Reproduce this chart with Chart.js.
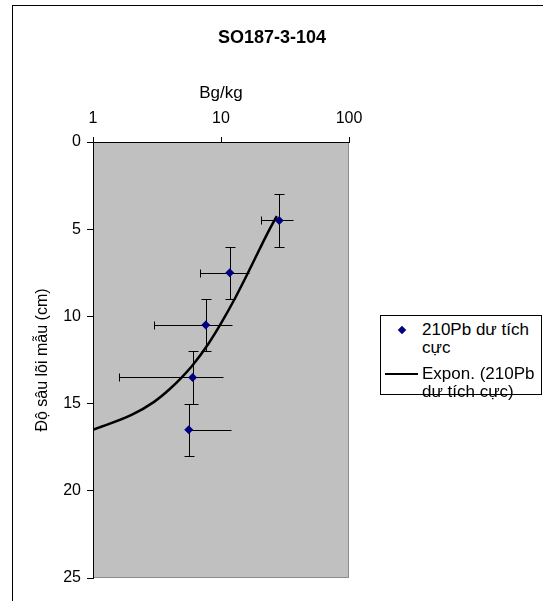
<!DOCTYPE html>
<html>
<head>
<meta charset="utf-8">
<script src="https://cdn.jsdelivr.net/npm/chart.js@4.4.1/dist/chart.umd.min.js"></script>
<style>
html, body { margin: 0; padding: 0; background: #fff; overflow: hidden; }
body { width: 543px; height: 601px; position: relative; font-family: "Liberation Sans", Arial, sans-serif; color: #000; }
#frame { position: absolute; left: 12px; top: 5px; width: 560px; height: 620px; border-left: 1px solid #000; border-top: 1px solid #000; }
#myChart { position: absolute; left: 0; top: 0; }
#title { position: absolute; left: 12px; width: 520px; top: 26px; text-align: center; font-weight: bold; font-size: 18px; line-height: 22px; }
#legend { position: absolute; left: 380px; top: 315px; width: 162px; height: 80px; box-sizing: border-box; border: 1px solid #000; background: #fff; font-size: 17px; line-height: 18px; }
#legend .txt { position: absolute; left: 41px; white-space: nowrap; }
#legend .dot { position: absolute; left: 18px; top: 11px; width: 6px; height: 6px; background: #000080; transform: rotate(45deg); }
#legend .ln { position: absolute; left: 4px; top: 57px; width: 33px; height: 2px; background: #000; }
</style>
</head>
<body>
<div id="frame"></div>
<canvas id="myChart" width="543" height="601"></canvas>
<div id="title">SO187-3-104</div>
<div id="legend">
  <div class="dot"></div>
  <div class="txt" style="top:5px">210Pb dư tích<br>cực</div>
  <div class="ln"></div>
  <div class="txt" style="top:49px">Expon. (210Pb<br>dư tích cực)</div>
</div>
<script>
// 210Pb activity (Bg/kg) against core depth (cm)
const activity = [28.5, 11.7, 7.6, 6.0, 5.6];
const depth = [4.5, 7.5, 10.5, 13.5, 16.5];
const activityErr = [7.8, 4.8, 4.6, 4.4, 6.3];
const depthErr = [1.5, 1.5, 1.5, 1.5, 1.5];

// exponential trend line
const trendActivity = [1, 2, 3, 4, 5, 6, 8, 10, 13, 16, 20, 24, 27.3];
const trendDepth = [16.5, 15.65, 14.9, 14.15, 13.45, 12.8, 11.55, 10.4, 8.9, 7.6, 6.15, 5.0, 4.25];

const xTicks = [1, 10, 100];
const depthTicks = [0, 5, 10, 15, 20, 25];

const plotBg = {
    id: 'plotBg',
    beforeDraw(chart) {
        const {ctx, chartArea: a} = chart;
        ctx.save();
        ctx.fillStyle = '#c0c0c0';
        ctx.fillRect(a.left, a.top, a.right - a.left, a.bottom - a.top);
        ctx.strokeStyle = '#8c8c8c';
        ctx.lineWidth = 1;
        ctx.strokeRect(a.left + 0.5, a.top + 0.5, a.right - a.left - 1, a.bottom - a.top - 1);
        ctx.restore();
    }
};

const errorBars = {
    id: 'errorBars',
    beforeDatasetsDraw(chart) {
        const {ctx, scales: {x, y}} = chart;
        ctx.save();
        ctx.lineWidth = 1;
        ctx.strokeStyle = '#000';
        ctx.beginPath();
        activity.forEach((a, i) => {
            const px = Math.round(x.getPixelForValue(a)) + 0.5;
            const py = Math.round(y.getPixelForValue(depth[i])) + 0.5;
            const y1 = Math.round(y.getPixelForValue(depth[i] - depthErr[i])) + 0.5;
            const y2 = Math.round(y.getPixelForValue(depth[i] + depthErr[i])) + 0.5;
            ctx.moveTo(px, y1); ctx.lineTo(px, y2);
            ctx.moveTo(px - 5, y1); ctx.lineTo(px + 5, y1);
            ctx.moveTo(px - 5, y2); ctx.lineTo(px + 5, y2);
            // horizontal: the right end has no cap, the left one does
            const hi = Math.round(x.getPixelForValue(a + activityErr[i])) + 0.5;
            ctx.moveTo(px, py); ctx.lineTo(hi, py);
            const lo = a - activityErr[i];
            if (lo > 0) {
                const xl = Math.round(x.getPixelForValue(lo)) + 0.5;
                ctx.moveTo(px, py); ctx.lineTo(xl, py);
                ctx.moveTo(xl, py - 4); ctx.lineTo(xl, py + 4);
            }
        });
        ctx.stroke();
        ctx.restore();
    }
};

let ctx = document.getElementById('myChart').getContext('2d');

let myChart = new Chart(ctx, {
    type: 'scatter',
    data: {
        datasets: [{
            label: '210Pb dư tích cực',
            data: activity.map((a, i) => ({x: a, y: depth[i]})),
            pointStyle: 'rectRot',
            pointRadius: 4.5,
            backgroundColor: '#000080',
            borderColor: '#000080',
            borderWidth: 0
        }, {
            label: 'Expon. (210Pb dư tích cực)',
            data: trendActivity.map((a, i) => ({x: a, y: trendDepth[i]})),
            showLine: true,
            pointRadius: 0,
            borderColor: '#000',
            borderWidth: 2.5,
            cubicInterpolationMode: 'monotone'
        }]
    },
    options: {
        responsive: false,
        animation: false,
        layout: {padding: {left: 0, top: 0, right: 194, bottom: 23}},
        plugins: {
            legend: {display: false},
            title: {display: false},
            tooltip: {enabled: false}
        },
        scales: {
            x: {
                type: 'logarithmic',
                position: 'top',
                min: xTicks[0],
                max: xTicks[xTicks.length - 1],
                afterBuildTicks: s => { s.ticks = xTicks.map(v => ({value: v})); },
                afterFit: s => { s.height = 142; },
                ticks: {
                    callback: v => String(v),
                    color: '#000',
                    padding: 9,
                    maxRotation: 0,
                    font: {family: 'Liberation Sans', size: 16}
                },
                grid: {drawOnChartArea: false, drawTicks: true, tickLength: 5, color: '#000'},
                border: {color: '#000', width: 1},
                title: {
                    display: true,
                    text: 'Bg/kg',
                    color: '#000',
                    padding: {top: 83, bottom: 0},
                    font: {family: 'Liberation Sans', size: 17}
                }
            },
            y: {
                reverse: true,
                min: depthTicks[0],
                max: depthTicks[depthTicks.length - 1],
                afterBuildTicks: s => { s.ticks = depthTicks.map(v => ({value: v})); },
                afterFit: s => { s.width = 93; },
                ticks: {
                    color: '#000',
                    padding: 6,
                    font: {family: 'Liberation Sans', size: 16}
                },
                grid: {drawOnChartArea: false, drawTicks: true, tickLength: 6, color: '#000'},
                border: {color: '#000', width: 1},
                title: {
                    display: true,
                    text: 'Độ sâu lõi mẫu (cm)',
                    color: '#000',
                    padding: {top: 33, bottom: 0},
                    font: {family: 'Liberation Sans', size: 16}
                }
            }
        }
    },
    plugins: [plotBg, errorBars]
});
</script>
</body>
</html>
